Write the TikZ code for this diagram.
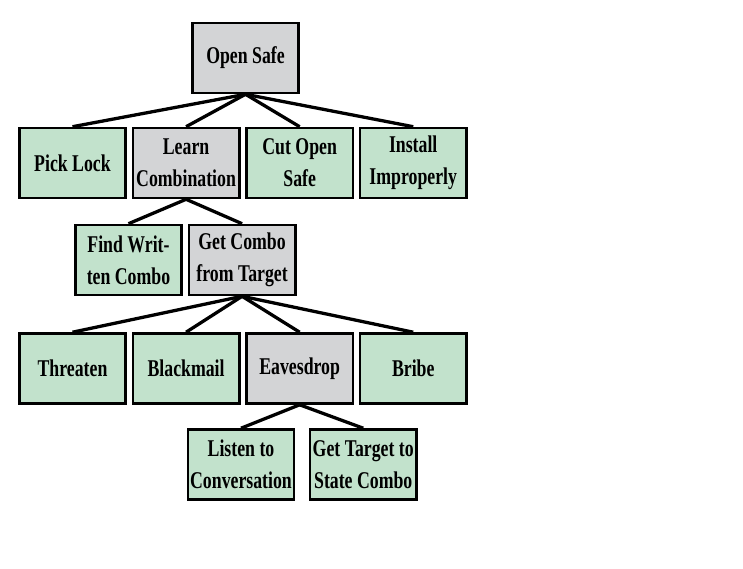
\documentclass[tikz,border=0pt]{standalone}
\usepackage{fontspec}
\usepackage{tikz}
\usetikzlibrary{positioning}
\newfontfamily\boxfont[FakeStretch=0.74]{Liberation Serif}
\definecolor{leafgreen}{RGB}{194,226,204}
\definecolor{nodegray}{RGB}{211,212,214}

\begin{document}
\begin{tikzpicture}[
    attack/.style={draw, line width=2.2pt, minimum width=3.19cm, minimum height=2.1cm,
        align=center, inner sep=1pt, font=\boxfont\bfseries\fontsize{20.5}{27.5}\selectfont},
    leaf/.style={attack, fill=leafgreen},
    inner/.style={attack, fill=nodegray},
    link/.style={line width=2.8pt},
]
    \useasboundingbox (0,0) rectangle (22.29,-17.07);
    \node[inner] (safe) at (7.365,-1.74) {Open Safe};
    % second level
    \node[leaf] (pick) at (2.175,-4.89) {Pick Lock};
    \node[inner, right=0.14cm of pick] (learn) {Learn\\Combination};
    \node[leaf, right=0.14cm of learn] (cut) {Cut Open\\Safe};
    \node[leaf, right=0.14cm of cut] (install) {Install\\Improperly};
    % ways to learn the combination
    \node[leaf] (written) at (3.855,-7.8) {Find Writ-\\ten Combo};
    \node[inner, right=0.14cm of written] (combo) {Get Combo\\from Target};
    % ways to get it from the target
    \node[leaf] (threaten) at (2.175,-11.055) {Threaten};
    \node[leaf, right=0.14cm of threaten] (blackmail) {Blackmail};
    \node[inner, right=0.14cm of blackmail] (eaves) {Eavesdrop};
    \node[leaf, right=0.14cm of eaves] (bribe) {Bribe};
    \node[leaf] (listen) at (7.23,-13.935) {Listen to\\Conversation};
    \node[leaf, right=0.4cm of listen] (state) {Get Target to\\State Combo};

    \foreach \child in {pick, learn, cut, install}
        \draw[link] (safe.south) -- (\child.north);
    \foreach \child in {written, combo}
        \draw[link] (learn.south) -- (\child.north);
    \foreach \child in {threaten, blackmail, eaves, bribe}
        \draw[link] (combo.south) -- (\child.north);
    \foreach \child in {listen, state}
        \draw[link] (eaves.south) -- (\child.north);
\end{tikzpicture}
\end{document}
